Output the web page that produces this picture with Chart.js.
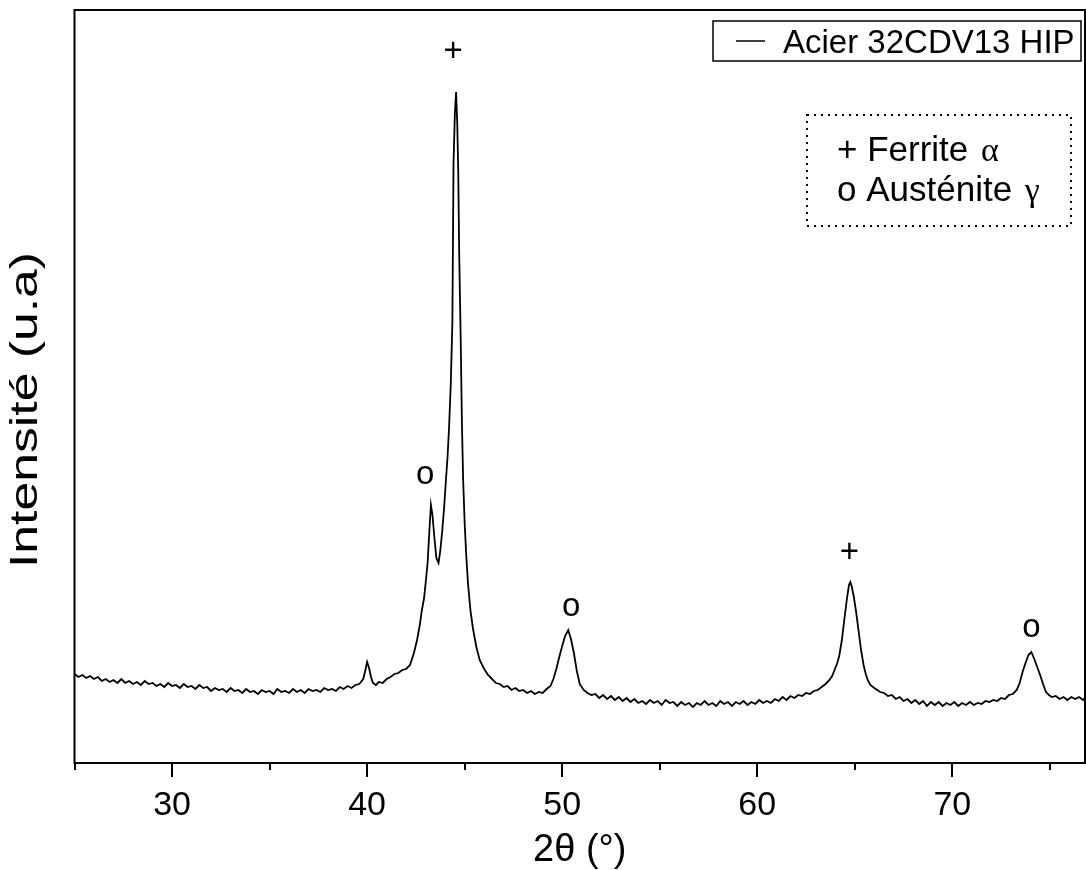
<!DOCTYPE html>
<html>
<head>
<meta charset="utf-8">
<script src="https://cdn.jsdelivr.net/npm/chart.js@4.4.0/dist/chart.umd.min.js"></script>
<style>
  body { margin: 0; background: #fff; }
  canvas { display: block; }
</style>
</head>
<body>
<canvas id="xrdChart" width="1086" height="870"></canvas>
<script>
// 2theta (deg)
const angle = [
  25.0,25.2,25.4,25.6,25.8,26.0,26.2,26.4,26.6,26.8,
  27.0,27.2,27.4,27.6,27.8,28.0,28.2,28.4,28.6,28.8,
  29.0,29.2,29.4,29.6,29.8,30.0,30.2,30.4,30.6,30.8,
  31.0,31.2,31.4,31.6,31.8,32.0,32.2,32.4,32.6,32.8,
  33.0,33.2,33.4,33.6,33.8,34.0,34.2,34.4,34.6,34.8,
  35.0,35.2,35.4,35.6,35.8,36.0,36.2,36.4,36.6,36.8,
  37.0,37.2,37.4,37.6,37.8,38.0,38.2,38.4,38.6,38.8,
  39.0,39.2,39.4,39.6,
  39.8,39.9,40.0,40.1,40.2,40.3,40.45,40.6,40.8,41.0,
  41.2,41.4,41.6,41.8,42.0,42.2,42.4,42.56,42.7,42.8,
  42.92,43.0,43.1,43.2,43.27,43.35,43.45,43.55,43.66,43.75,
  43.85,43.95,44.03,44.12,44.2,44.29,44.37,44.43,44.5,44.56,
  44.62,44.67,44.72,44.8,44.86,44.92,45.0,45.08,45.17,45.3,
  45.43,45.6,45.77,46.0,46.2,46.4,46.6,46.8,47.0,47.2,
  47.4,47.6,47.8,48.0,48.2,48.4,48.6,48.8,49.0,49.2,
  49.4,49.55,49.7,49.85,50.0,50.15,50.31,50.45,50.6,50.75,
  50.9,51.1,51.3,51.5,
  51.7,51.9,52.1,52.3,52.5,52.7,52.9,53.1,53.3,53.5,
  53.7,53.9,54.1,54.3,54.5,54.7,54.9,55.1,55.3,55.5,
  55.7,55.9,56.1,56.3,56.5,56.7,56.9,57.1,57.3,57.5,
  57.7,57.9,58.1,58.3,58.5,58.7,58.9,59.1,59.3,59.5,
  59.7,59.9,60.1,60.3,60.5,60.7,60.9,61.1,61.3,61.5,
  61.7,61.9,62.1,62.3,62.5,62.7,62.9,63.1,63.3,63.5,
  63.7,
  63.84,64.0,64.1,64.2,64.33,64.46,64.6,64.7,64.77,64.85,
  64.95,65.06,65.2,65.32,65.45,65.56,65.66,65.8,66.0,66.3,
  66.5,
  66.7,66.9,67.1,67.3,67.5,67.7,67.9,68.1,68.3,68.5,
  68.7,68.9,69.1,69.3,69.5,69.7,69.9,70.1,70.3,70.5,
  70.7,70.9,71.1,71.3,71.5,71.7,71.9,72.1,72.3,72.5,
  72.7,72.9,73.1,73.3,
  73.45,73.6,73.75,73.9,74.05,74.2,74.35,74.5,74.65,74.8,
  74.95,75.1,75.3,75.5,75.7,75.9,76.1,76.3,76.5,76.7,
  76.8
];

// intensity (u.a), same order as angle
const intensity = [
  89,86,88,85,87,84,86,82,84,81,
  83,80,84,80,82,79,81,78,82,79,
  80,77,79,76,80,77,78,75,79,76,
  77,74,78,75,76,72,75,73,74,71,
  75,72,73,70,74,71,72,69,73,71,
  72,69,74,71,72,70,74,71,73,70,
  74,72,73,71,75,73,74,72,76,74,
  77,75,78,79,
  84,92,101,95,86,80,78,81,80,84,
  86,89,90,93,94,98,110,123,138,152,
  165,180,200,235,258,248,225,205,200,212,
  232,256,280,305,335,380,440,600,650,671,
  640,593,510,420,340,285,240,208,180,152,
  134,116,103,94,88,84,80,79,76,77,
  73,75,72,73,70,72,69,71,70,74,
  77,84,94,106,117,127,133,124,110,92,
  79,73,70,68,
  69,65,68,64,67,63,66,62,65,61,
  64,60,62,59,63,60,62,58,63,60,
  61,57,61,58,60,56,60,58,62,58,
  60,57,62,59,61,57,61,59,62,58,
  61,59,63,60,62,60,64,62,66,63,
  67,65,68,67,70,69,72,73,76,79,
  83,
  87,95,100,107,122,143,165,178,181,176,
  166,152,131,113,98,89,83,78,75,71,
  70,
  67,68,64,66,62,64,60,63,59,62,
  57,61,58,61,57,60,58,61,57,60,
  58,61,58,60,59,62,61,63,62,65,
  64,68,69,73,
  80,91,100,108,111,104,96,88,79,71,
  68,66,67,64,66,63,66,64,66,63,
  65
];

// phase marks over the peaks
const phaseAngle = [44.41, 42.97, 50.46, 64.72, 74.05];
const phaseLevel = [713, 288, 156, 212, 135];
const phaseSymbol = ['+', 'o', 'o', '+', 'o'];

const majorTicks = [30, 40, 50, 60, 70];
const minorTicks = [25, 35, 45, 55, 65, 75];

const seriesLabel = 'Acier 32CDV13 HIP';
const phaseKey = [['+ Ferrite ', 'α'], ['o Austénite ', 'γ']];

const SANS = '"Liberation Sans", Arial, sans-serif';
const SERIF = '"Liberation Serif", "Times New Roman", serif';

const decorPlugin = {
    id: 'decor',
    afterDatasetsDraw(chart) {
        const ctx = chart.ctx;
        const area = chart.chartArea;
        const xs = chart.scales.x;
        const ys = chart.scales.y;
        ctx.save();
        ctx.strokeStyle = '#000';
        ctx.fillStyle = '#000';

        // frame
        ctx.lineWidth = 2;
        ctx.strokeRect(area.left, area.top, area.right - area.left, area.bottom - area.top);

        // tick marks, pointing outward
        ctx.beginPath();
        majorTicks.forEach(function (v) {
            const px = Math.round(xs.getPixelForValue(v));
            ctx.moveTo(px, area.bottom);
            ctx.lineTo(px, area.bottom + 14);
        });
        minorTicks.forEach(function (v) {
            const px = Math.round(xs.getPixelForValue(v));
            ctx.moveTo(px, area.bottom);
            ctx.lineTo(px, area.bottom + 7);
        });
        ctx.stroke();

        // phase symbols
        ctx.font = '33px ' + SANS;
        ctx.textAlign = 'center';
        ctx.textBaseline = 'alphabetic';
        for (let i = 0; i < phaseAngle.length; i++) {
            const px = xs.getPixelForValue(phaseAngle[i]);
            const py = ys.getPixelForValue(phaseLevel[i]);
            const shift = phaseSymbol[i] === 'o' ? 8.5 : 11;
            ctx.fillText(phaseSymbol[i], px, py + shift);
        }

        // legend box
        ctx.lineWidth = 1.5;
        ctx.strokeRect(713, 21, 368, 40);
        ctx.beginPath();
        ctx.moveTo(736, 41);
        ctx.lineTo(765, 41);
        ctx.stroke();
        ctx.textAlign = 'left';
        ctx.font = '33px ' + SANS;
        ctx.fillText(seriesLabel, 783, 53);

        // dotted key box
        ctx.lineWidth = 2;
        ctx.setLineDash([2, 5]);
        ctx.strokeRect(807, 115, 264, 111);
        ctx.setLineDash([]);
        const baselines = [161, 201];
        phaseKey.forEach(function (row, i) {
            ctx.font = '35px ' + SANS;
            ctx.fillText(row[0], 837, baselines[i]);
            const w = ctx.measureText(row[0]).width;
            ctx.font = '34px ' + SERIF;
            ctx.fillText(row[1], 837 + w + 3, baselines[i]);
        });

        // y axis title, stretched along its length like the original
        ctx.translate(27, 410);
        ctx.rotate(-Math.PI / 2);
        ctx.scale(1.36, 1);
        ctx.font = '38px ' + SANS;
        ctx.textAlign = 'center';
        ctx.textBaseline = 'middle';
        ctx.fillText('Intensité (u.a)', 0, 0);
        ctx.restore();
    }
};

const points = angle.map(function (a, i) { return { x: a, y: intensity[i] }; });

new Chart(document.getElementById('xrdChart'), {
    type: 'line',
    data: {
        datasets: [{
            label: seriesLabel,
            data: points,
            borderColor: '#000',
            borderWidth: 1.8,
            pointRadius: 0,
            tension: 0,
            fill: false
        }]
    },
    options: {
        responsive: false,
        animation: false,
        layout: { padding: { top: 10, right: 1, left: 0, bottom: 0 } },
        plugins: {
            legend: { display: false },
            tooltip: { enabled: false }
        },
        scales: {
            x: {
                type: 'linear',
                min: 25,
                max: 76.8,
                afterFit: function (scale) {
                    scale.height = 107;
                    scale.paddingLeft = 0;
                    scale.paddingRight = 0;
                },
                border: { display: false },
                grid: { display: false, drawTicks: false },
                ticks: {
                    stepSize: 5,
                    padding: 22,
                    color: '#000',
                    font: { family: SANS, size: 34 },
                    maxRotation: 0,
                    autoSkip: false,
                    callback: function (v) { return majorTicks.indexOf(v) >= 0 ? String(v) : ''; }
                },
                title: {
                    display: true,
                    text: '2θ (°)',
                    color: '#000',
                    font: { family: SANS, size: 38, lineHeight: 1 },
                    padding: 0
                }
            },
            y: {
                min: 0,
                max: 753,
                afterFit: function (scale) {
                    scale.width = 74.5;
                    scale.paddingTop = 0;
                    scale.paddingBottom = 0;
                },
                border: { display: false },
                grid: { display: false },
                ticks: { display: false }
            }
        }
    },
    plugins: [decorPlugin]
});
</script>
</body>
</html>
